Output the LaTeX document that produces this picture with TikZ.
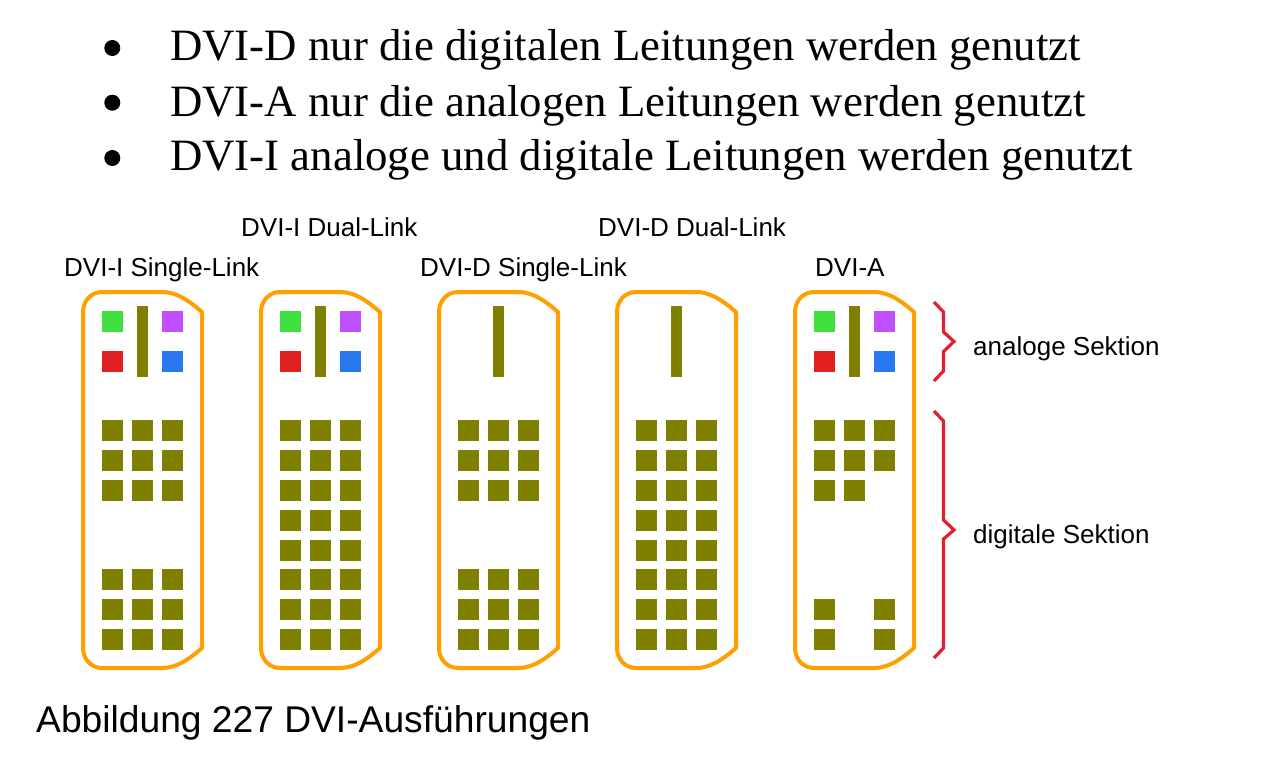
\documentclass[tikz,border=0pt]{standalone}
\usepackage{fontspec}
\setmainfont{Liberation Serif}
\setsansfont{Liberation Sans}

\definecolor{shellorange}{HTML}{FFA000}
\definecolor{pinolive}{HTML}{808000}
\definecolor{pingreen}{HTML}{40E040}
\definecolor{pinpurple}{HTML}{C050FF}
\definecolor{pinred}{HTML}{E02020}
\definecolor{pinblue}{HTML}{2878F0}
\definecolor{bracered}{HTML}{E0202C}

\tikzset{
  shell/.style = {draw = shellorange, line width = 4pt, line join = round},
  brace/.style = {draw = bracered, line width = 3.2pt},
  title/.style = {anchor = base west, inner sep = 0pt, font = \fontsize{44.8}{45}\selectfont},
  label/.style = {anchor = base west, inner sep = 0pt, font = \sffamily\fontsize{26}{26}\selectfont},
  caption/.style = {anchor = base west, inner sep = 0pt, font = \sffamily\fontsize{37.2}{37}\selectfont},
  bulletdot/.style = {circle, fill = black, inner sep = 0pt, minimum size = 16pt}
}

% one square contact, #1 = left edge, #2 = top edge
\newcommand{\pinsq}[2]{\fill[pinolive] (#1, #2) rectangle ++(21, 21);}
% a row of the grid, #1 = left edge of the shell, #2 = row number
\newcommand{\pinrow}[2]{
  \pgfmathsetmacro{\rowy}{420.3 + 29.8 * #2}
  \foreach \dx in {19, 48.8, 78.6} {
    \pgfmathsetmacro{\colx}{#1 + \dx}
    \pinsq{\colx}{\rowy}
  }
}
% outline and flat blade, #1 = left edge of the shell, #2 = blade offset
\newcommand{\shellbody}[2]{
  \draw[shell] (#1, 312) .. controls (#1, 301) and (#1 + 8, 292) .. (#1 + 19, 292)
    -- (#1 + 79, 292) .. controls (#1 + 95, 292) and (#1 + 108, 302.5) .. (#1 + 119, 312)
    -- (#1 + 119, 648) .. controls (#1 + 108, 657.5) and (#1 + 95, 668) .. (#1 + 79, 668)
    -- (#1 + 19, 668) .. controls (#1 + 8, 668) and (#1, 659) .. (#1, 648) -- cycle;
  \fill[pinolive] (#1 + #2, 306) rectangle ++(11, 70.5);
}
% the four analogue contacts
\newcommand{\analogpins}[1]{
  \fill[pingreen] (#1 + 19, 311.3) rectangle ++(21, 21);
  \fill[pinpurple] (#1 + 78.6, 311.3) rectangle ++(21, 21);
  \fill[pinred] (#1 + 19, 350.5) rectangle ++(21, 21);
  \fill[pinblue] (#1 + 78.6, 350.5) rectangle ++(21, 21);
}

\begin{document}
\begin{tikzpicture}[x = 1pt, y = -1pt]
\useasboundingbox (0, 0) rectangle (1286, 764);
\fill[white] (0, 0) rectangle (1286, 764);

\node[bulletdot] (bulletd) at (112.3, 48) {};
\node[bulletdot] (bulleta) at (112.3, 102.7) {};
\node[bulletdot] (bulleti) at (112.3, 158) {};
\node[title] (lined) at (170, 60.7) {DVI-D nur die digitalen Leitungen werden genutzt};
\node[title] (linea) at (170, 116) {DVI-A nur die analogen Leitungen werden genutzt};
\node[title] (linei) at (170, 170.7) {DVI-I analoge und digitale Leitungen werden genutzt};

\node[label] (isingle) at (64, 276) {DVI-I Single-Link};
\node[label] (idual) at (241, 236) {DVI-I Dual-Link};
\node[label] (dsingle) at (420, 276) {DVI-D Single-Link};
\node[label] (ddual) at (598, 236) {DVI-D Dual-Link};
\node[label] (aonly) at (815, 276) {DVI-A};

\shellbody{83}{53.7}
\shellbody{261}{53.7}
\shellbody{439}{53.7}
\shellbody{617}{53.7}
\shellbody{795}{53.7}

\analogpins{83}
\analogpins{261}
\analogpins{795}

% grids
\foreach \r in {0, 1, 2, 5, 6, 7} {
  \pinrow{83}{\r}
  \pinrow{439}{\r}
}
\foreach \r in {0, ..., 7} {
  \pinrow{261}{\r}
  \pinrow{617}{\r}
}

% DVI-A has only some of them
\pinrow{795}{0}
\pinrow{795}{1}
\pinsq{814}{479.9}
\pinsq{843.8}{479.9}
\pinsq{814}{599.1}
\pinsq{873.6}{599.1}
\pinsq{814}{628.9}
\pinsq{873.6}{628.9}

\draw[brace] (934, 302) -- (943.5, 312) -- (943.5, 332) -- (954, 341.5) -- (943.5, 351.5) -- (943.5, 371) -- (934, 381);
\draw[brace] (934, 411) -- (943.5, 421) -- (943.5, 520) -- (954, 530) -- (943.5, 539) -- (943.5, 648) -- (934, 658);

\node[label] (analogsec) at (973, 355) {analoge Sektion};
\node[label] (digitalsec) at (973, 543) {digitale Sektion};

\node[caption] (figcaption) at (36, 732) {Abbildung 227 DVI-Ausführungen};
\end{tikzpicture}
\end{document}
